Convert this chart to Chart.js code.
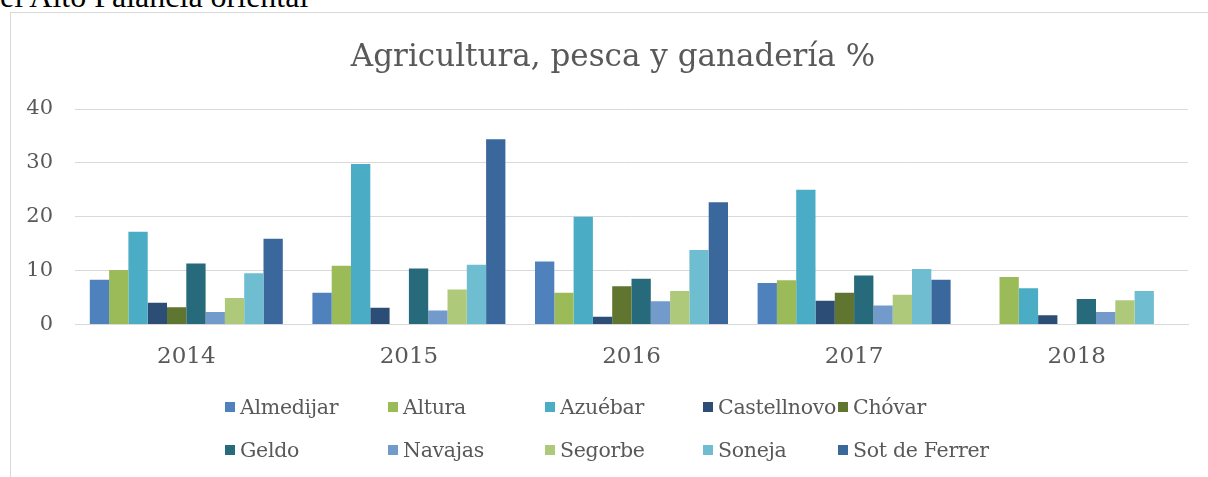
<!DOCTYPE html>
<html lang="es">
<head>
<meta charset="utf-8">
<title>Agricultura, pesca y ganadería %</title>
<script src="https://cdn.jsdelivr.net/npm/chart.js@4.4.1/dist/chart.umd.min.js"></script>
<style>
    body {
        margin: 0;
        background: #fff;
        width: 1208px;
        height: 477px;
        overflow: hidden;
        position: relative;
    }
    #texto-superior {
        position: absolute;
        left: 0;
        top: -20px;
        font-family: 'Liberation Serif', serif;
        font-size: 32px;
        line-height: 32px;
        color: #000;
        white-space: nowrap;
    }
    #marco {
        position: absolute;
        left: 10px;
        top: 12px;
        width: 1230px;
        height: 500px;
        border: 1px solid #d9d9d9;
    }
    #titulo {
        position: absolute;
        left: 0;
        width: 1204px;
        top: 24px;
        text-align: center;
        font-family: 'DejaVu Serif', serif;
        font-size: 31px;
        line-height: 37px;
        color: #595959;
        white-space: nowrap;
    }
    #contenedor {
        position: absolute;
        left: 0;
        top: 0;
        width: 1198px;
        height: 465px;
    }
    #leyenda {
        position: absolute;
        left: 214px;
        top: 383px;
        display: grid;
        grid-template-columns: 163px 157px 158px 135px auto;
        row-gap: 21px;
        font-family: 'DejaVu Serif', serif;
        font-size: 20.5px;
        letter-spacing: -0.3px;
        color: #595959;
    }
    .item {
        display: flex;
        align-items: center;
        height: 22px;
        white-space: nowrap;
    }
    .cuadro {
        flex-shrink: 0;
        width: 10px;
        height: 10px;
        margin-right: 5px;
    }
</style>
</head>
<body>
<div id="texto-superior">el Alto Palancia oriental</div>
<div id="marco">
    <div id="contenedor"><canvas id="grafico"></canvas></div>
    <div id="titulo">Agricultura, pesca y ganadería %</div>
    <div id="leyenda"></div>
</div>
<script>
const anios = ['2014', '2015', '2016', '2017', '2018'];
const municipios = ['Almedijar', 'Altura', 'Azuébar', 'Castellnovo', 'Chóvar',
    'Geldo', 'Navajas', 'Segorbe', 'Soneja', 'Sot de Ferrer'];
const colores = ['#4F81BD', '#9BBB59', '#4BACC6', '#2C4D75', '#5F7530',
    '#276A7C', '#729ACA', '#AFC97A', '#6FBDD1', '#3A679C'];

// valores en %, uno por año (null = sin dato)
const almedijar = [8.3, 5.9, 11.7, 7.7, null];
const altura = [10.1, 10.9, 5.9, 8.2, 8.8];
const azuebar = [17.2, 29.8, 20.0, 25.0, 6.7];
const castellnovo = [4.0, 3.1, 1.4, 4.4, 1.7];
const chovar = [3.2, null, 7.1, 5.9, null];
const geldo = [11.3, 10.4, 8.5, 9.1, 4.7];
const navajas = [2.3, 2.6, 4.3, 3.5, 2.3];
const segorbe = [4.9, 6.5, 6.2, 5.5, 4.5];
const soneja = [9.5, 11.1, 13.8, 10.3, 6.2];
const sotDeFerrer = [15.9, 34.4, 22.7, 8.3, null];

const ticksY = [0, 10, 20, 30, 40];

const series = [almedijar, altura, azuebar, castellnovo, chovar,
    geldo, navajas, segorbe, soneja, sotDeFerrer];

const fuente = "'DejaVu Serif', serif";
const gris = '#595959';

const datasets = series.map((valores, i) => ({
    label: municipios[i],
    data: valores,
    backgroundColor: colores[i],
    borderWidth: 0
}));

new Chart(document.getElementById('grafico').getContext('2d'), {
    type: 'bar',
    data: { labels: anios, datasets },
    options: {
        responsive: true,
        maintainAspectRatio: false,
        animation: false,
        layout: {
            padding: { left: 0, right: 21, top: 96, bottom: 88 }
        },
        datasets: {
            bar: {
                categoryPercentage: 0.867,
                barPercentage: 1
            }
        },
        plugins: {
            legend: { display: false },
            tooltip: { enabled: false },
            title: { display: false }
        },
        scales: {
            x: {
                grid: { display: false, drawTicks: false },
                border: { color: '#d9d9d9', width: 1 },
                ticks: {
                    color: gris,
                    padding: 19,
                    font: { family: fuente, size: 23 }
                }
            },
            y: {
                min: 0,
                max: 40,
                afterFit: axis => { axis.width = 64; },
                afterBuildTicks: axis => { axis.ticks = ticksY.map(v => ({ value: v })); },
                grid: { color: '#d9d9d9', lineWidth: 1, drawTicks: false },
                border: { display: false },
                ticks: {
                    color: gris,
                    padding: 22,
                    font: { family: fuente, size: 21 }
                }
            }
        }
    }
});

const leyenda = document.getElementById('leyenda');
municipios.forEach((nombre, i) => {
    const item = document.createElement('div');
    item.className = 'item';
    item.innerHTML = `<span class="cuadro" style="background:${colores[i]}"></span>${nombre}`;
    leyenda.appendChild(item);
});
</script>
</body>
</html>
